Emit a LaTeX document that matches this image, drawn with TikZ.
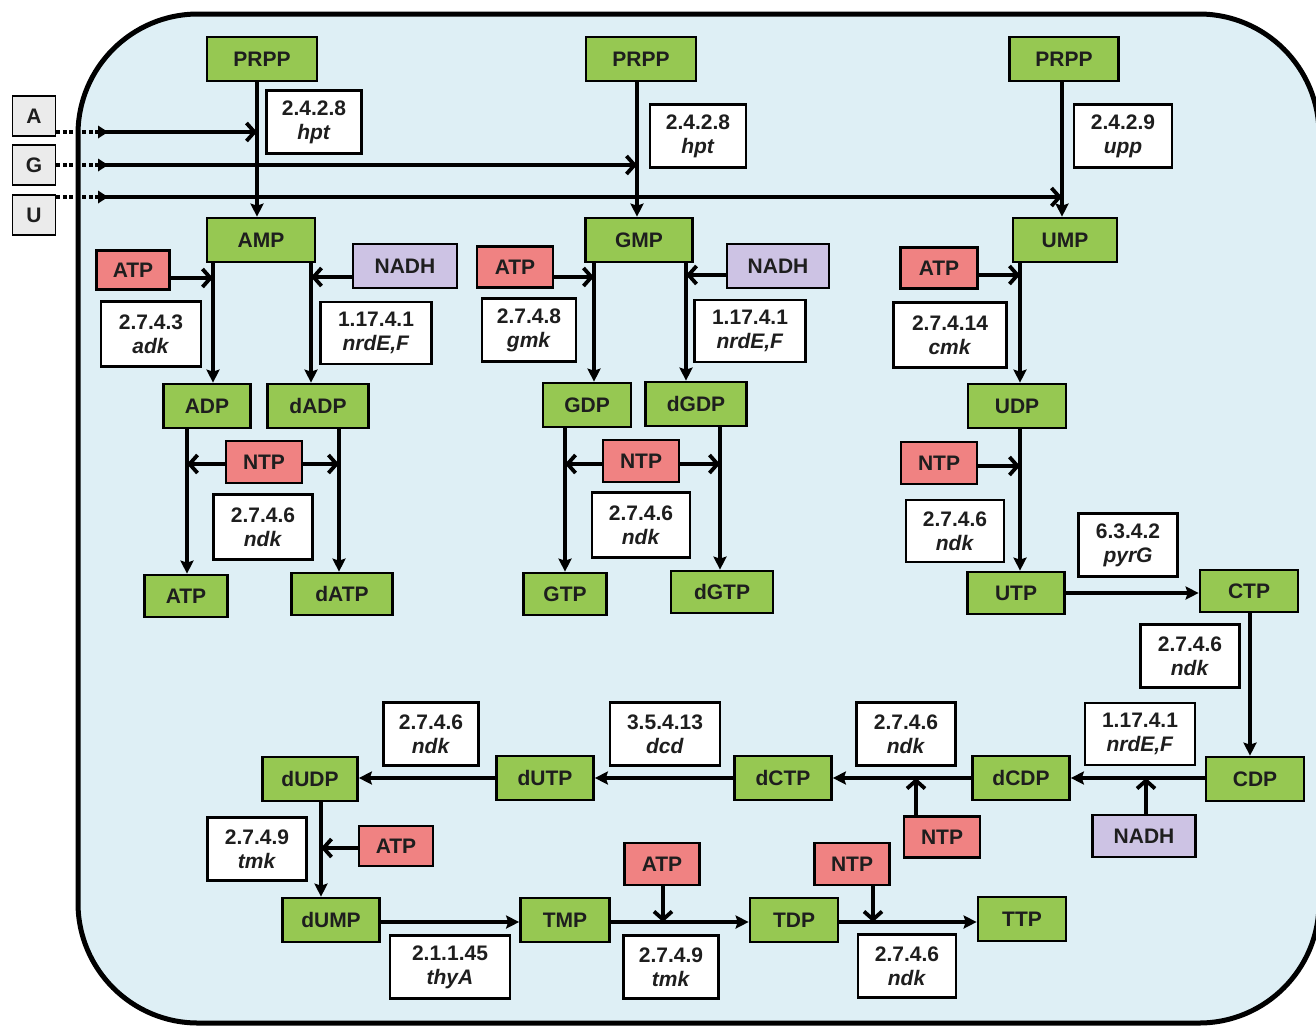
\documentclass[tikz,border=0pt]{standalone}
\usepackage{fontspec}
\setmainfont{Liberation Sans}
\usetikzlibrary{arrows.meta,calc}
\definecolor{bgblue}{RGB}{222,239,245}
\definecolor{metgreen}{RGB}{150,200,82}
\definecolor{cofred}{RGB}{240,130,130}
\definecolor{nadhpur}{RGB}{205,195,228}
\definecolor{srcgrey}{RGB}{235,235,235}
\definecolor{txt}{RGB}{30,30,30}
\newcommand\enzl[2]{#1\\\textit{#2}}
\begin{document}
\begin{tikzpicture}[x=1pt,y=-1pt,
  box/.style={draw=black, line width=2.7pt, inner sep=0pt, text=txt,
    font=\bfseries\fontsize{21}{24}\selectfont, minimum height=44pt},
  met/.style={box, fill=metgreen},
  cof/.style={box, fill=cofred, minimum height=41pt},
  nadh/.style={box, fill=nadhpur},
  src/.style={box, fill=srcgrey, line width=1.5pt, minimum width=43pt, minimum height=40pt},
  enz/.style={box, fill=white, align=center, minimum height=63pt},
  flow/.style={line width=4.3pt, -{Stealth[length=13pt,width=13pt,inset=2pt]}},
  side/.style={line width=4.3pt, -{Straight Barb[length=8pt,width=18pt,line width=3.8pt]}},
  dotline/.style={line width=4pt, dash pattern=on 4pt off 2.5pt, -{Triangle[length=10pt,width=13pt,line width=0pt]}},
]
\useasboundingbox (0,0) rectangle (1316,1026);
\draw[line width=5pt, fill=bgblue, rounded corners=120pt] (78,14) rectangle (1319,1023);

% ---- green metabolite boxes
\node[met, minimum width=110pt] (PRPPa) at (262,59) {PRPP};
\node[met, minimum width=110pt] (PRPPb) at (641,59) {PRPP};
\node[met, minimum width=109pt] (PRPPc) at (1064,59) {PRPP};
\node[met, minimum width=108pt] (AMP) at (261,240) {AMP};
\node[met, minimum width=107pt] (GMP) at (639,240) {GMP};
\node[met, minimum width=104pt] (UMP) at (1065,240) {UMP};
\node[met, minimum width=87pt] (ADP) at (207,406) {ADP};
\node[met, minimum width=101pt] (dADP) at (318,406) {dADP};
\node[met, minimum width=88pt] (GDP) at (587,405) {GDP};
\node[met, minimum width=101pt] (dGDP) at (696,404) {dGDP};
\node[met, minimum width=98pt] (UDP) at (1017,406) {UDP};
\node[met, minimum width=83pt, minimum height=42pt] (ATPg) at (186,596) {ATP};
\node[met, minimum width=101pt, minimum height=42pt] (dATP) at (342,594) {dATP};
\node[met, minimum width=83pt, minimum height=42pt] (GTP) at (565,594) {GTP};
\node[met, minimum width=102pt, minimum height=42pt] (dGTP) at (722,592) {dGTP};
\node[met, minimum width=97pt, minimum height=42pt] (UTP) at (1016,593) {UTP};
\node[met, minimum width=98pt, minimum height=42pt] (CTP) at (1249,591) {CTP};
\node[met, minimum width=98pt] (CDP) at (1255,779) {CDP};
\node[met, minimum width=97pt] (dCDP) at (1021,778) {dCDP};
\node[met, minimum width=97pt] (dCTP) at (783,778) {dCTP};
\node[met, minimum width=97pt] (dUTP) at (545,778) {dUTP};
\node[met, minimum width=95pt] (dUDP) at (310,779) {dUDP};
\node[met, minimum width=97pt] (dUMP) at (331,920) {dUMP};
\node[met, minimum width=89pt] (TMP) at (565,920) {TMP};
\node[met, minimum width=88pt] (TDP) at (794,920) {TDP};
\node[met, minimum width=88pt] (TTP) at (1022,919) {TTP};

% ---- red cofactor boxes
\node[cof, minimum width=73pt, minimum height=39pt] (ATPa) at (133,270) {ATP};
\node[cof, minimum width=76pt] (ATPb) at (515,267) {ATP};
\node[cof, minimum width=77pt] (ATPc) at (939,268) {ATP};
\node[cof, minimum width=76pt, minimum height=42pt] (NTPa) at (264,462) {NTP};
\node[cof, minimum width=76pt, minimum height=42pt] (NTPb) at (641,461) {NTP};
\node[cof, minimum width=76pt, minimum height=42pt] (NTPc) at (939,463) {NTP};
\node[cof, minimum width=76pt] (NTPd) at (942,837) {NTP};
\node[cof, minimum width=74pt, minimum height=40pt] (ATPd) at (396,846) {ATP};
\node[cof, minimum width=75pt, minimum height=42pt] (ATPe) at (662,864) {ATP};
\node[cof, minimum width=75pt, minimum height=42pt] (NTPe) at (852,864) {NTP};

% ---- purple NADH boxes
\node[nadh, minimum width=104pt] (NADHa) at (405,266) {NADH};
\node[nadh, minimum width=102pt] (NADHb) at (778,266) {NADH};
\node[nadh, minimum width=103pt, minimum height=42pt] (NADHc) at (1144,836) {NADH};

% ---- grey source boxes
\node[src] (A) at (34,116) {A};
\node[src] (G) at (34,165) {G};
\node[src] (U) at (34,215) {U};

% ---- enzyme boxes
\node[enz, minimum width=95pt] (e1) at (314,122) {\enzl{2.4.2.8}{hpt}};
\node[enz, minimum width=96pt] (e2) at (698,136) {\enzl{2.4.2.8}{hpt}};
\node[enz, minimum width=98pt] (e3) at (1123,136) {\enzl{2.4.2.9}{upp}};
\node[enz, minimum width=100pt, minimum height=65pt] (e4) at (151,334) {\enzl{2.7.4.3}{adk}};
\node[enz, minimum width=111pt, minimum height=62pt] (e5) at (376,333) {\enzl{1.17.4.1}{nrdE,F}};
\node[enz, minimum width=94pt] (e6) at (529,330) {\enzl{2.7.4.8}{gmk}};
\node[enz, minimum width=111pt, minimum height=62pt] (e7) at (750,331) {\enzl{1.17.4.1}{nrdE,F}};
\node[enz, minimum width=113pt, minimum height=65pt] (e8) at (950,335) {\enzl{2.7.4.14}{cmk}};
\node[enz, minimum width=99pt, minimum height=65pt] (e9) at (263,527) {\enzl{2.7.4.6}{ndk}};
\node[enz, minimum width=98pt, minimum height=65pt] (e10) at (641,525) {\enzl{2.7.4.6}{ndk}};
\node[enz, minimum width=98pt, minimum height=62pt] (e11) at (955,531) {\enzl{2.7.4.6}{ndk}};
\node[enz, minimum width=99pt] (e12) at (1128,545) {\enzl{6.3.4.2}{pyrG}};
\node[enz, minimum width=99pt] (e13) at (1190,656) {\enzl{2.7.4.6}{ndk}};
\node[enz, minimum width=110pt, minimum height=62pt] (e14) at (1140,734) {\enzl{1.17.4.1}{nrdE,F}};
\node[enz, minimum width=99pt] (e15) at (906,734) {\enzl{2.7.4.6}{ndk}};
\node[enz, minimum width=110pt] (e16) at (665,734) {\enzl{3.5.4.13}{dcd}};
\node[enz, minimum width=95pt] (e17) at (431,734) {\enzl{2.7.4.6}{ndk}};
\node[enz, minimum width=99pt] (e18) at (257,849) {\enzl{2.7.4.9}{tmk}};
\node[enz, minimum width=120pt] (e19) at (450,967) {\enzl{2.1.1.45}{thyA}};
\node[enz, minimum width=95pt] (e20) at (671,967) {\enzl{2.7.4.9}{tmk}};
\node[enz, minimum width=98pt] (e21) at (907,966) {\enzl{2.7.4.6}{ndk}};

% ---- junction points
\coordinate (jA) at (257,132);
\coordinate (jG) at (637,165);
\coordinate (jU) at (1062,197);
\coordinate (tA) at (98,132);
\coordinate (tG) at (98,165);
\coordinate (tU) at (98,197);
\coordinate (j1) at (213,278);
\coordinate (j2) at (311,277);
\coordinate (j3) at (594,277);
\coordinate (j4) at (686,275);
\coordinate (j5) at (1020,275);
\coordinate (j6) at (187,464);
\coordinate (j7) at (339,464);
\coordinate (j8) at (565,464);
\coordinate (j9) at (720,464);
\coordinate (j10) at (1020,466);
\coordinate (j11) at (1146,778);
\coordinate (j12) at (916,778);
\coordinate (j13) at (321,848);
\coordinate (j14) at (663,922);
\coordinate (j15) at (873,922);
\coordinate (xc) at (1250,0);

% ---- A, G, U uptake
\draw[dotline] (A.east |- tA) -- ($(tA)+(10,0)$);
\draw[dotline] (G.east |- tG) -- ($(tG)+(10,0)$);
\draw[dotline] (U.east |- tU) -- ($(tU)+(10,0)$);
\draw[side] (tA) -- (jA);
\draw[side] (tG) -- (jG);
\draw[side] (tU) -- (jU);

% ---- PRPP to NMP
\draw[flow] (PRPPa.south -| jA) -- (AMP.north -| jA);
\draw[flow] (PRPPb.south -| jG) -- (GMP.north -| jG);
\draw[flow] (PRPPc.south -| jU) -- (UMP.north -| jU);

% ---- adenine branch
\draw[flow] (AMP.south -| j1) -- (ADP.north -| j1);
\draw[flow] (AMP.south -| j2) -- (dADP.north -| j2);
\draw[side] (ATPa.east |- j1) -- (j1);
\draw[side] (NADHa.west |- j2) -- (j2);
\draw[flow] (ADP.south -| j6) -- (ATPg.north -| j6);
\draw[flow] (dADP.south -| j7) -- (dATP.north -| j7);
\draw[side] (NTPa.west |- j6) -- (j6);
\draw[side] (NTPa.east |- j7) -- (j7);

% ---- guanine branch
\draw[flow] (GMP.south -| j3) -- (GDP.north -| j3);
\draw[flow] (GMP.south -| j4) -- (dGDP.north -| j4);
\draw[side] (ATPb.east |- j3) -- (j3);
\draw[side] (NADHb.west |- j4) -- (j4);
\draw[flow] (GDP.south -| j8) -- (GTP.north -| j8);
\draw[flow] (dGDP.south -| j9) -- (dGTP.north -| j9);
\draw[side] (NTPb.west |- j8) -- (j8);
\draw[side] (NTPb.east |- j9) -- (j9);

% ---- uracil branch
\draw[flow] (UMP.south -| j5) -- (UDP.north -| j5);
\draw[side] (ATPc.east |- j5) -- (j5);
\draw[flow] (UDP.south -| j10) -- (UTP.north -| j10);
\draw[side] (NTPc.east |- j10) -- (j10);
\draw[flow] (UTP.east) -- (CTP.west |- UTP.east);
\draw[flow] (CTP.south -| xc) -- (CDP.north -| xc);

% ---- deoxy pyrimidine chain
\draw[flow] (CDP.west |- dCDP.east) -- (dCDP.east);
\draw[side] (NADHc.north -| j11) -- (j11);
\draw[flow] (dCDP.west) -- (dCTP.east);
\draw[side] (NTPd.north -| j12) -- (j12);
\draw[flow] (dCTP.west) -- (dUTP.east);
\draw[flow] (dUTP.west) -- (dUDP.east |- dUTP.west);
\draw[flow] (dUDP.south -| j13) -- (dUMP.north -| j13);
\draw[side] (ATPd.west |- j13) -- (j13);
\draw[flow] (dUMP.east |- j14) -- (TMP.west |- j14);
\draw[flow] (TMP.east |- j14) -- (TDP.west |- j14);
\draw[side] (ATPe.south -| j14) -- (j14);
\draw[flow] (TDP.east |- j15) -- (TTP.west |- j15);
\draw[side] (NTPe.south -| j15) -- (j15);
\end{tikzpicture}
\end{document}
